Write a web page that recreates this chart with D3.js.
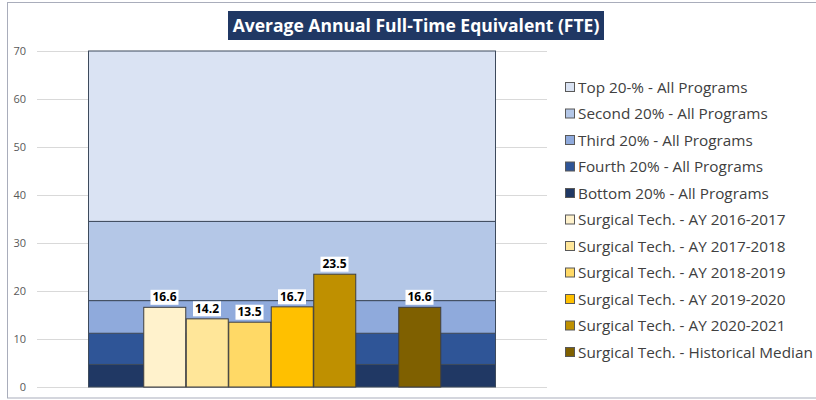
<!DOCTYPE html>
<html><head><meta charset="utf-8">
<script src="https://cdn.jsdelivr.net/npm/d3@7"></script>
<style>
body{margin:0;background:#fff;}
svg{display:block;font-family:"Open Sans",sans-serif;}
</style></head>
<body><svg id="c" width="816" height="400"></svg>
<script>
const title = "Average Annual Full-Time Equivalent (FTE)";
const bandNames = ["Bottom 20% - All Programs","Fourth 20% - All Programs","Third 20% - All Programs","Second 20% - All Programs","Top 20-% - All Programs"];
const bandValues = [4.7, 6.5, 6.8, 16.5, 35.5];
const bandColors = ["#203864","#2f5597","#8faadc","#b4c7e7","#dae3f3"];
const slots = ["AY 2016-2017","AY 2017-2018","AY 2018-2019","AY 2019-2020","AY 2020-2021","","Historical Median"];
const barNames = ["Surgical Tech. - AY 2016-2017","Surgical Tech. - AY 2017-2018","Surgical Tech. - AY 2018-2019","Surgical Tech. - AY 2019-2020","Surgical Tech. - AY 2020-2021","Surgical Tech. - Historical Median"];
const barSlots = ["AY 2016-2017","AY 2017-2018","AY 2018-2019","AY 2019-2020","AY 2020-2021","Historical Median"];
const barValues = [16.6, 14.2, 13.5, 16.7, 23.5, 16.6];
const barColors = ["#fff2cc","#ffe699","#ffd966","#ffc000","#bf9000","#7f6000"];
const yTicks = [0,10,20,30,40,50,60,70];

const svg = d3.select("#c");
svg.append("rect").attr("x",7.5).attr("y",2.5).attr("width",820).attr("height",395.5)
  .attr("fill","none").attr("stroke","#a9adbb").attr("stroke-width",1);

const y = d3.scaleLinear().domain([0,70]).range([387,51]);
const x = d3.scaleBand().domain(slots).range([88,496]).paddingInner(0).paddingOuter(1.3);

const gridL = 37, gridR = 547;
svg.append("g").selectAll("line").data(yTicks).join("line")
  .attr("x1",gridL).attr("x2",gridR)
  .attr("y1",d=>Math.round(y(d))+0.5).attr("y2",d=>Math.round(y(d))+0.5)
  .attr("stroke","#d9d9d9").attr("stroke-width",1);
const yAxis = d3.axisLeft(y).tickValues(yTicks).tickSize(0).tickPadding(0);
const ya = svg.append("g").attr("transform","translate(26,0)").call(yAxis);
ya.select(".domain").remove();
ya.selectAll("text").attr("fill","#595959").style("font-size","11px").style("font-family","'Open Sans',sans-serif");

let cum = 0;
const bands = bandValues.map((v,i)=>{const b={name:bandNames[i],y0:cum,y1:cum+v,color:bandColors[i]};cum+=v;return b;});
svg.append("g").selectAll("rect").data(bands).join("rect")
  .attr("x",88.5).attr("width",407)
  .attr("y",d=>y(d.y1)).attr("height",d=>y(d.y0)-y(d.y1))
  .attr("fill",d=>d.color).attr("stroke","#3d4a5c").attr("stroke-width",1);

const bars = barValues.map((v,i)=>({v,slot:barSlots[i],color:barColors[i],name:barNames[i]}));
svg.append("g").selectAll("rect").data(bars).join("rect")
  .attr("x",d=>x(d.slot)+0.5).attr("width",x.bandwidth()-0.5)
  .attr("y",d=>y(d.v)).attr("height",d=>y(0)-y(d.v))
  .attr("fill",d=>d.color).attr("stroke","#3f3f3f").attr("stroke-width",1);

const lg = svg.append("g");
bars.forEach(d=>{
  const cx = x(d.slot)+x.bandwidth()/2;
  const t = lg.append("text").attr("x",cx).attr("y",y(d.v)-6)
    .attr("text-anchor","middle").attr("font-weight","bold").attr("font-size","12px")
    .attr("fill","#000").text(d3.format(".1f")(d.v));
  const w = t.node().getComputedTextLength()+4;
  lg.insert("rect","text").attr("x",cx-w/2).attr("y",y(d.v)-17.5).attr("width",w).attr("height",15).attr("fill","#fff");
});

svg.append("rect").attr("x",228).attr("y",11).attr("width",376).attr("height",29).attr("fill","#203864");
svg.append("text").attr("x",416).attr("y",32).attr("text-anchor","middle")
  .attr("font-weight","bold").attr("font-size","17.5px").attr("fill","#fff").text(title);

const legendItems = bands.slice().reverse().map(b=>({name:b.name,color:b.color}))
  .concat(bars.map(b=>({name:b.name,color:b.color})));
const leg = svg.append("g");
legendItems.forEach((d,i)=>{
  const cy = 87 + i*26.5;
  leg.append("rect").attr("x",565.5).attr("y",cy-4.5).attr("width",9).attr("height",9)
    .attr("fill",d.color).attr("stroke","#595959").attr("stroke-width",1);
  leg.append("text").attr("x",578).attr("y",cy+5.5).attr("font-size","15.3px").attr("fill","#404040").text(d.name);
});
</script></body></html>
